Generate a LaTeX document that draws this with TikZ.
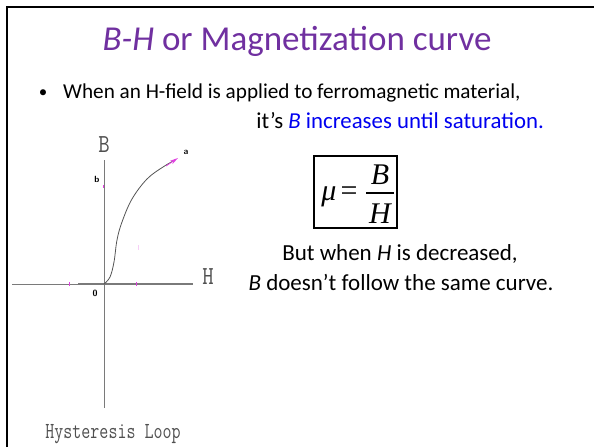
\documentclass[tikz,border=0pt]{standalone}
\usepackage{fontspec}
\setmainfont{Carlito}
\newfontfamily\formulafont{Liberation Serif}
\usetikzlibrary{arrows.meta}
\definecolor{titlepurple}{HTML}{7030A0}
\definecolor{textblue}{RGB}{0,0,240}
\definecolor{axisgray}{HTML}{7A7A7A}
\definecolor{curvegray}{HTML}{555555}
\definecolor{labelgray}{HTML}{505050}
\definecolor{tickpink}{HTML}{E040E0}
\tikzset{
  titletext/.style={font=\fontsize{35}{40}\selectfont, text=titlepurple, inner sep=0pt},
  bodytext/.style={font=\fontsize{21.2}{24}\selectfont, text=black, inner sep=0pt},
  sidetext/.style={font=\fontsize{23}{26}\selectfont, text=black, inner sep=0pt},
  formtext/.style={font=\formulafont\itshape\fontsize{30}{34}\selectfont, inner sep=0pt},
  graphlabel/.style={font=\ttfamily\fontsize{26}{28}\selectfont, text=labelgray, inner sep=0pt},
  captiontext/.style={font=\ttfamily\fontsize{23}{26}\selectfont, text=labelgray, inner sep=0pt},
  smalllabel/.style={font=\sffamily\bfseries\fontsize{9}{10}\selectfont, inner sep=0pt},
  axisline/.style={draw=axisgray, line width=1pt},
  pinktick/.style={draw=tickpink, line width=0.9pt},
}
\begin{document}
\begin{tikzpicture}[x=1pt, y=-1pt]
\useasboundingbox (0,0) rectangle (594,447);
% slide border
\draw[line width=2.3pt] (7.2,447) -- (7.2,7.2) -- (594,7.2);
% title
\node[titletext, anchor=base] (title) at (297,50) {\textit{B-H} or Magnetization curve};
% bullet
\node[bodytext, anchor=base, font=\fontsize{17}{20}\selectfont] (bullet) at (43,97) {•};
\node[bodytext, anchor=base west] (line1) at (63,98) {When an H-field is applied to ferromagnetic material,};
\node[sidetext, anchor=base east, font=\fontsize{22.8}{26}\selectfont] (line2) at (544,128) {it’s \textcolor{textblue}{\textit{B} increases until saturation.}};
% formula box
\draw[line width=1.9pt] (314,156) rectangle (397,228);
\node[formtext, anchor=base] (mu) at (329,200) {μ};
\node[formtext, anchor=center, font=\formulafont\fontsize{30}{34}\selectfont] (eq) at (349,194) {=};
\draw[line width=1.1pt] (366,193) -- (394,193);
\node[formtext, anchor=base] (fb) at (380,184) {B};
\node[formtext, anchor=base] (fh) at (380,223) {H};
% text right
\node[sidetext, anchor=base] (line3) at (400,260) {But when \textit{H} is decreased,};
\node[sidetext, anchor=base] (line4) at (401,290) {\textit{B} doesn’t follow the same curve.};
% graph
\coordinate (O) at (104,284);
\draw[axisline] (104,160) -- (104,408);
\draw[draw=axisgray, line width=0.8pt] (12,284) -- (78,284);
\draw[draw=axisgray, line width=1.7pt] (78,284) -- (193,284);
\node[graphlabel, anchor=center] (Blab) at (104,145) {\scalebox{0.85}[1]{B}};
\node[graphlabel, anchor=center] (Hlab) at (208,277) {\scalebox{0.85}[1]{H}};
\node[smalllabel, anchor=center] (zero) at (95,293) {0};
\node[smalllabel, anchor=center] (blab) at (97,179) {b};
\node[smalllabel, anchor=center] (alab) at (186,152) {a};
\draw[curvegray, line width=0.8pt] plot[smooth, tension=0.6] coordinates {(104,284) (110,277) (114,262) (117,240) (122,222) (132,199) (147,179) (163,167) (175,160)};
\coordinate (tipA) at (178,158);
\draw[tickpink, line width=0.8pt, -{Stealth[length=8pt, width=4pt, open]}] (166,166) -- (tipA);
\draw[pinktick] (69,282) -- (69,286);
\draw[pinktick] (136,282) -- (136,286);
\draw[pinktick] (103,185) -- (103,188);
\draw[draw=tickpink!25, line width=0.8pt] (138,245) -- (138,250);
\node[captiontext, anchor=center] (hyst) at (113,434) {\scalebox{0.76}[1]{Hysteresis Loop}};
\end{tikzpicture}
\end{document}
